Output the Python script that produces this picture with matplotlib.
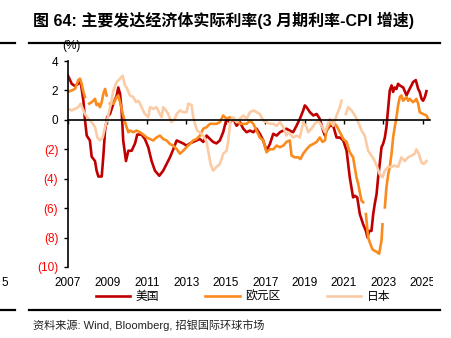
import matplotlib
matplotlib.use("Agg")
import matplotlib.pyplot as plt
import matplotlib.transforms as mtransforms
from matplotlib.lines import Line2D
import numpy as np

plt.rcParams["font.family"] = ["Liberation Sans", "Noto Sans CJK SC"]

nan = np.nan

# 美国 real rate (decimal year, %)
us_t = [2007.00, 2007.19, 2007.35, 2007.52, 2007.64, 2007.78, 2007.86, 2007.95, 2008.11, 2008.20,
        2008.37, 2008.45, 2008.54, 2008.71, 2008.79, 2008.88, 2008.99, 2009.13, 2009.30, 2009.47,
        2009.55, 2009.64, 2009.72, 2009.80, 2009.94, 2010.06, 2010.23, 2010.40, 2010.51, 2010.73,
        2010.90, 2011.07, 2011.24, 2011.41, 2011.63, 2011.83, 2012.00, 2012.17, 2012.34, 2012.51,
        2012.68, 2012.84, 2013.01, 2013.18, 2013.35, 2013.52, 2013.69, 2013.86, 2014.03, 2014.20,
        2014.36, 2014.53, 2014.70, 2014.87, 2015.04, 2015.21, 2015.38, 2015.55, 2015.72, 2015.89,
        2016.06, 2016.23, 2016.40, 2016.56, 2016.73, 2016.90, 2017.07, 2017.24, 2017.41, 2017.58,
        2017.75, 2017.92, 2018.08, 2018.25, 2018.42, 2018.59, 2018.76, 2018.93, 2019.01, 2019.10,
        2019.27, 2019.44, 2019.61, 2019.77, 2019.94, 2020.03, 2020.11, 2020.28, 2020.45, 2020.62,
        2020.79, 2020.96, 2021.13, 2021.29, 2021.46, 2021.55, 2021.67, 2021.80, 2021.97, 2022.11,
        2022.19, 2022.27, 2022.39, 2022.48, 2022.56, 2022.65, 2022.73, 2022.81, 2022.90, 2022.98,
        2023.07, 2023.15, 2023.24, 2023.32, 2023.41, 2023.49, 2023.57, 2023.66, 2023.74, 2023.83,
        2024.00, 2024.17, 2024.25, 2024.33, 2024.42, 2024.50, 2024.64, 2024.76, 2024.84, 2024.93,
        2025.01, 2025.10, 2025.18]
us_v = [3.0, 2.45, 2.3, 2.45, 2.6, 1.3, 0.0, -1.07, -1.4, -2.5,
        -2.8, -3.45, -3.85, -3.85, -2.5, -0.7, 0.2, 0.4, 1.1, 1.66,
        2.2, 1.77, 0.64, -1.4, -2.8, -2.1, -2.1, -1.6, -1.0, -1.0,
        -1.3, -1.86, -2.8, -3.45, -3.8, -3.45, -3.0, -2.55, -2.0, -1.4,
        -1.5, -1.6, -1.75, -1.6, -1.5, -1.4, -1.3, -1.5, -1.07, -1.3,
        -1.5, -1.6, -1.4, -0.84, 0.07, -0.16, 0.07, -0.4, -0.16, -0.6,
        -0.84, -0.73, -0.84, -0.6, -0.95, -1.4, -2.1, -1.64, -0.95, -1.07,
        -0.84, -0.73, -0.6, -0.73, -0.84, -0.4, 0.07, 0.64, 0.98, 0.86,
        0.52, 0.3, 0.4, 0.07, -0.73, -1.07, -0.73, -0.4, -0.4, -1.2,
        -1.2, -1.4, -2.1, -3.9, -5.27, -5.16, -5.27, -6.4, -7.1, -7.55,
        -8.0, -7.55, -7.55, -6.4, -5.7, -5.05, -3.9, -3.0, -1.86, -1.64,
        -1.2, -0.5, 0.86, 2.0, 2.34, 1.9, 2.2, 2.1, 2.45, 2.34,
        2.2, 1.66, 1.9, 2.1, 2.34, 2.57, 2.7, 2.1, 1.9, 1.43,
        1.3, 1.55, 1.95]

# 欧元区 real rate (nan = gap in the series)
eu_t = [2007.00, 2007.19, 2007.35, 2007.52, 2007.61, 2007.69, 2007.78, 2007.86, 2007.95, 2008.08,
        2008.20, 2008.28, 2008.37, 2008.45, 2008.54, 2008.62, 2008.71, 2008.79, 2008.88, 2008.96,
        2009.04, 2009.13, 2009.30, 2009.47, 2009.55, 2009.64, 2009.80, 2009.89, 2010.06, 2010.14,
        2010.31, 2010.48, 2010.65, 2010.82, 2010.99, 2011.16, 2011.32, 2011.49, 2011.66, 2011.83,
        2012.00, 2012.17, 2012.34, 2012.51, 2012.68, 2012.84, 2013.01, 2013.18, 2013.35, 2013.52,
        2013.69, 2013.86, 2014.03, 2014.20, 2014.36, 2014.53, 2014.70, 2014.87, 2015.04, 2015.21,
        2015.38, 2015.55, 2015.72, 2015.89, 2016.06, 2016.23, 2016.40, 2016.56, 2016.73, 2016.90,
        2017.07, 2017.24, 2017.41, 2017.58, 2017.75, 2017.92, 2018.08, 2018.25, 2018.34, 2018.51,
        2018.68, 2018.79, 2018.93, 2019.10, 2019.27, 2019.44, 2019.61, 2019.77, 2019.91, 2020.03,
        2020.11, 2020.28, 2020.45, 2020.62, 2020.79, 2020.96, 2021.13, 2021.29, 2021.46, 2021.63,
        2021.72, 2021.80, 2021.89, 2021.97, 2022.04, 2022.11, 2022.22, 2022.34, 2022.44, 2022.56,
        2022.68, 2022.78, 2022.90, 2022.95, 2023.01, 2023.07, 2023.15, 2023.24, 2023.32, 2023.41,
        2023.49, 2023.57, 2023.66, 2023.74, 2023.83, 2023.91, 2024.00, 2024.08, 2024.17, 2024.25,
        2024.33, 2024.50, 2024.59, 2024.67, 2024.76, 2024.84, 2025.01, 2025.18, 2025.26]
eu_v = [1.9, 2.0, 2.1, 2.7, 2.8, 2.45, 1.9, 1.55, nan, 1.1,
        1.2, 1.3, 1.43, 1.0, 1.1, 0.86, 1.2, 1.77, 2.1, 1.66,
        nan, 1.1, 1.1, 1.55, 1.66, 1.2, 0.3, -0.16, -0.84, -0.73,
        -0.84, -0.73, -0.84, -1.0, -1.2, -1.3, -1.4, -1.2, -1.07, -1.3,
        -1.4, -1.64, -1.75, -1.98, -2.3, -2.1, -1.86, -1.64, -1.4, -1.3,
        -1.07, -0.6, -0.5, -0.27, -0.27, -0.27, -0.16, 0.3, 0.07, 0.18,
        -0.05, -0.05, -0.27, -0.27, -0.27, -0.05, -0.27, -0.73, -1.2, -1.4,
        -2.2, -2.0, -2.0, -1.75, -1.86, -1.75, -1.5, -1.4, -2.43, -2.55,
        -2.55, -2.66, -2.3, -2.0, -1.75, -1.64, -1.5, -1.2, -1.5, -1.4,
        -0.73, -0.27, -0.16, -0.4, -0.84, -1.3, -1.5, -2.2, -2.55, -3.9,
        -4.36, -4.93, -5.5, -5.6, nan, -6.4, -8.0, -8.45, -8.8, -8.9,
        -9.0, -9.1, -8.2, -7.1, nan, -5.95, -4.6, -3.7, -3.2, -2.3,
        -1.2, -0.5, 0.18, 0.98, 1.55, 1.66, 1.3, 1.43, 1.55, 1.3,
        1.43, 1.2, 1.3, 1.43, 1.1, 0.52, 0.4, 0.3, 0.07]

# 日本 real rate
jp_t = [2007.00, 2007.19, 2007.35, 2007.52, 2007.64, 2007.78, 2007.86, 2008.03, 2008.20, 2008.37,
        2008.49, 2008.62, 2008.76, 2008.88, 2009.04, 2009.21, 2009.30, 2009.47, 2009.64, 2009.77,
        2009.89, 2009.97, 2010.14, 2010.31, 2010.45, 2010.56, 2010.65, 2010.73, 2010.90, 2011.07,
        2011.16, 2011.32, 2011.49, 2011.66, 2011.75, 2011.83, 2011.97, 2012.08, 2012.25, 2012.42,
        2012.51, 2012.68, 2012.84, 2013.01, 2013.10, 2013.27, 2013.35, 2013.44, 2013.55, 2013.69,
        2013.86, 2014.03, 2014.11, 2014.23, 2014.36, 2014.53, 2014.70, 2014.79, 2014.87, 2014.96,
        2015.04, 2015.13, 2015.24, 2015.38, 2015.55, 2015.72, 2015.89, 2016.06, 2016.23, 2016.40,
        2016.56, 2016.73, 2016.90, 2017.07, 2017.24, 2017.41, 2017.58, 2017.75, 2017.92, 2018.08,
        2018.17, 2018.25, 2018.42, 2018.59, 2018.76, 2018.93, 2019.10, 2019.18, 2019.35, 2019.52,
        2019.69, 2019.86, 2020.03, 2020.15, 2020.28, 2020.45, 2020.62, 2020.79, 2020.87, 2020.95,
        2021.09, 2021.21, 2021.38, 2021.55, 2021.72, 2021.89, 2022.05, 2022.22, 2022.39, 2022.56,
        2022.68, 2022.81, 2022.95, 2023.07, 2023.24, 2023.41, 2023.57, 2023.74, 2023.91, 2024.08,
        2024.25, 2024.42, 2024.59, 2024.67, 2024.79, 2024.93, 2025.05, 2025.18]
jp_v = [0.75, 0.64, 0.75, 0.86, 1.1, 0.64, 0.4, 0.07, -0.16, -0.5,
        -1.2, -1.4, -1.2, -0.5, 0.3, 1.3, 2.0, 2.57, 2.8, 3.0,
        2.34, 2.2, 1.66, 1.55, 1.2, 1.3, 1.1, 0.86, 0.4, 0.18,
        0.86, 0.75, 0.86, 0.4, 0.18, 0.86, 0.64, 0.4, -0.16, 0.07,
        0.4, 0.64, 0.52, 0.52, 1.1, 1.0, 0.18, -0.27, -0.73, -0.84,
        -1.07, -1.5, -2.1, -3.0, -3.45, -3.2, -3.0, -2.66, -2.3, -2.2,
        -2.1, -1.4, -0.05, 0.18, -0.16, 0.07, 0.3, 0.07, 0.52, 0.64,
        0.52, 0.4, -0.05, -0.16, -0.27, -0.27, -0.4, -0.16, -0.5, -1.07,
        -0.84, -0.95, -1.2, -1.07, -1.2, -0.16, -0.5, -0.84, -0.6, -0.27,
        -0.05, -0.4, -0.84, -0.4, 0.07, -0.4, 0.3, 0.86, 1.3, nan,
        0.4, 0.86, 0.64, 0.3, -0.16, -0.73, -1.07, -2.1, -2.43, -2.8,
        -3.2, -3.7, -3.9, -3.45, -3.2, -3.2, -3.1, -3.2, -2.55, -2.8,
        -2.55, -2.43, -2.3, -2.0, -2.3, -2.9, -3.0, -2.8]

year_ticks = list(range(2007, 2026, 2))
y_ticks = list(range(-10, 5, 2))

W, H = 451, 338
fig = plt.figure(figsize=(W / 100, H / 100), dpi=100)
ax = fig.add_axes([68 / W, 1 - 267 / H, 362 / W, 206 / H])

ax.plot(us_t, us_v, color="#C00000", lw=1.9, label="美国", solid_joinstyle="round")
ax.plot(eu_t, eu_v, color="#F98B1F", lw=1.9, label="欧元区", solid_joinstyle="round")
ax.plot(jp_t, jp_v, color="#FBCBA5", lw=1.9, label="日本", solid_joinstyle="round")

ax.set_xlim(2007, 2025.36)
ax.set_ylim(-10, 4)
ax.spines[["top", "right"]].set_visible(False)
ax.spines["bottom"].set_position(("data", 0))
ax.spines["left"].set_linewidth(1.2)
ax.spines["bottom"].set_linewidth(1.2)

ax.set_xticks(year_ticks)
ax.tick_params(axis="x", direction="out", length=3, width=1, labelbottom=False)
ax.set_yticks(y_ticks)
ax.set_yticklabels([f"({-v})" if v < 0 else str(v) for v in y_ticks])
ax.tick_params(axis="y", direction="out", length=3, width=1, labelsize=8.5, pad=4)
for v, lab in zip(y_ticks, ax.get_yticklabels()):
    lab.set_color("#FF0000" if v < 0 else "black")

# year labels sit below the plot, clipped at the right edge like the source
clip = mtransforms.TransformedBbox(mtransforms.Bbox([[0, 0], [433 / W, 1]]), fig.transFigure)
blend = mtransforms.blended_transform_factory(ax.transData, ax.transAxes)
for yr in year_ticks:
    t = ax.text(yr, -0.078, str(yr), transform=blend, ha="center", va="center",
                fontsize=8.5, clip_on=True)
    t.set_clip_box(clip)

fig.text(71 / W, 1 - 46 / H, "(%)", ha="center", va="center", fontsize=8.5)

fig.legend(loc="center", bbox_to_anchor=(243 / W, 1 - 297 / H), ncol=3, frameon=False,
           fontsize=8.5, handlelength=2.9, columnspacing=3.9, handletextpad=0.5)

fig.text(33 / W, 1 - 20 / H, "图 64: 主要发达经济体实际利率(3 月期利率-CPI 增速)",
         fontsize=11.5, fontweight="bold", va="center")
fig.text(33 / W, 1 - 325 / H, "资料来源: Wind, Bloomberg, 招银国际环球市场",
         fontsize=8, va="center", color="#222222")
fig.text(1 / W, 1 - 283 / H, "5", fontsize=8.5, va="center")

for y in (43, 310):
    fig.add_artist(Line2D([29 / W, 440 / W], [1 - y / H] * 2, color="black", lw=1.6))
    fig.add_artist(Line2D([0, 15 / W], [1 - y / H] * 2, color="black", lw=1.6))

fig.savefig("out.png", dpi=100)
